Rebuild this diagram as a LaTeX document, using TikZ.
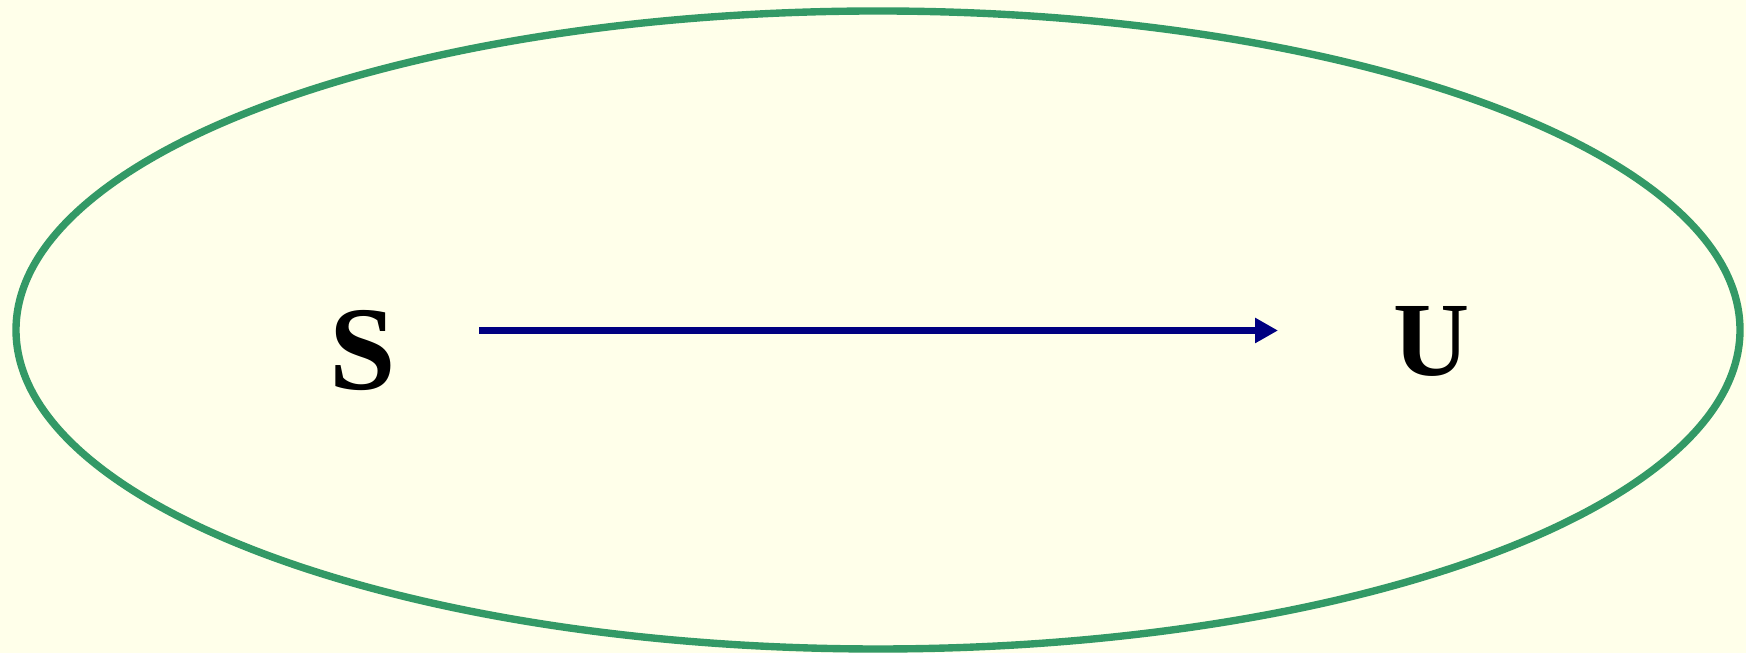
\documentclass[tikz,border=0pt]{standalone}
\usepackage{fontspec}
\setmainfont{Liberation Serif}
\newfontfamily\letterfont{Liberation Serif Bold}
\usetikzlibrary{arrows.meta, positioning}

\definecolor{paper}{RGB}{255,255,234}
\definecolor{ringgreen}{RGB}{51,153,102}
\definecolor{arrownavy}{RGB}{0,0,128}

\begin{document}
\begin{tikzpicture}[
    ring/.style={draw=ringgreen, line width=2.1pt},
    letter/.style={anchor=base, inner sep=0pt},
    arr/.style={draw=arrownavy, line width=2pt, -{Triangle[length=0.23cm, width=0.24cm]}},
]

% Background
\fill[paper] (0,0) rectangle (17.46,6.53);
\useasboundingbox (0,0) rectangle (17.46,6.53);

% Ellipse
\draw[ring] (8.78,3.23) ellipse (8.62 and 3.19);

% Nodes
\node[letter, font=\letterfont\fontsize{34}{40}\selectfont] (S) at (3.625,2.63) {S};
\node[letter, font=\letterfont\fontsize{30}{36}\selectfont] (U) at (14.32,2.77) {U};

% Arrow
\coordinate (from) at (4.79,3.225);
\coordinate (to) at (12.78,3.225);
\draw[arr] (from) -- (to);

\end{tikzpicture}
\end{document}
